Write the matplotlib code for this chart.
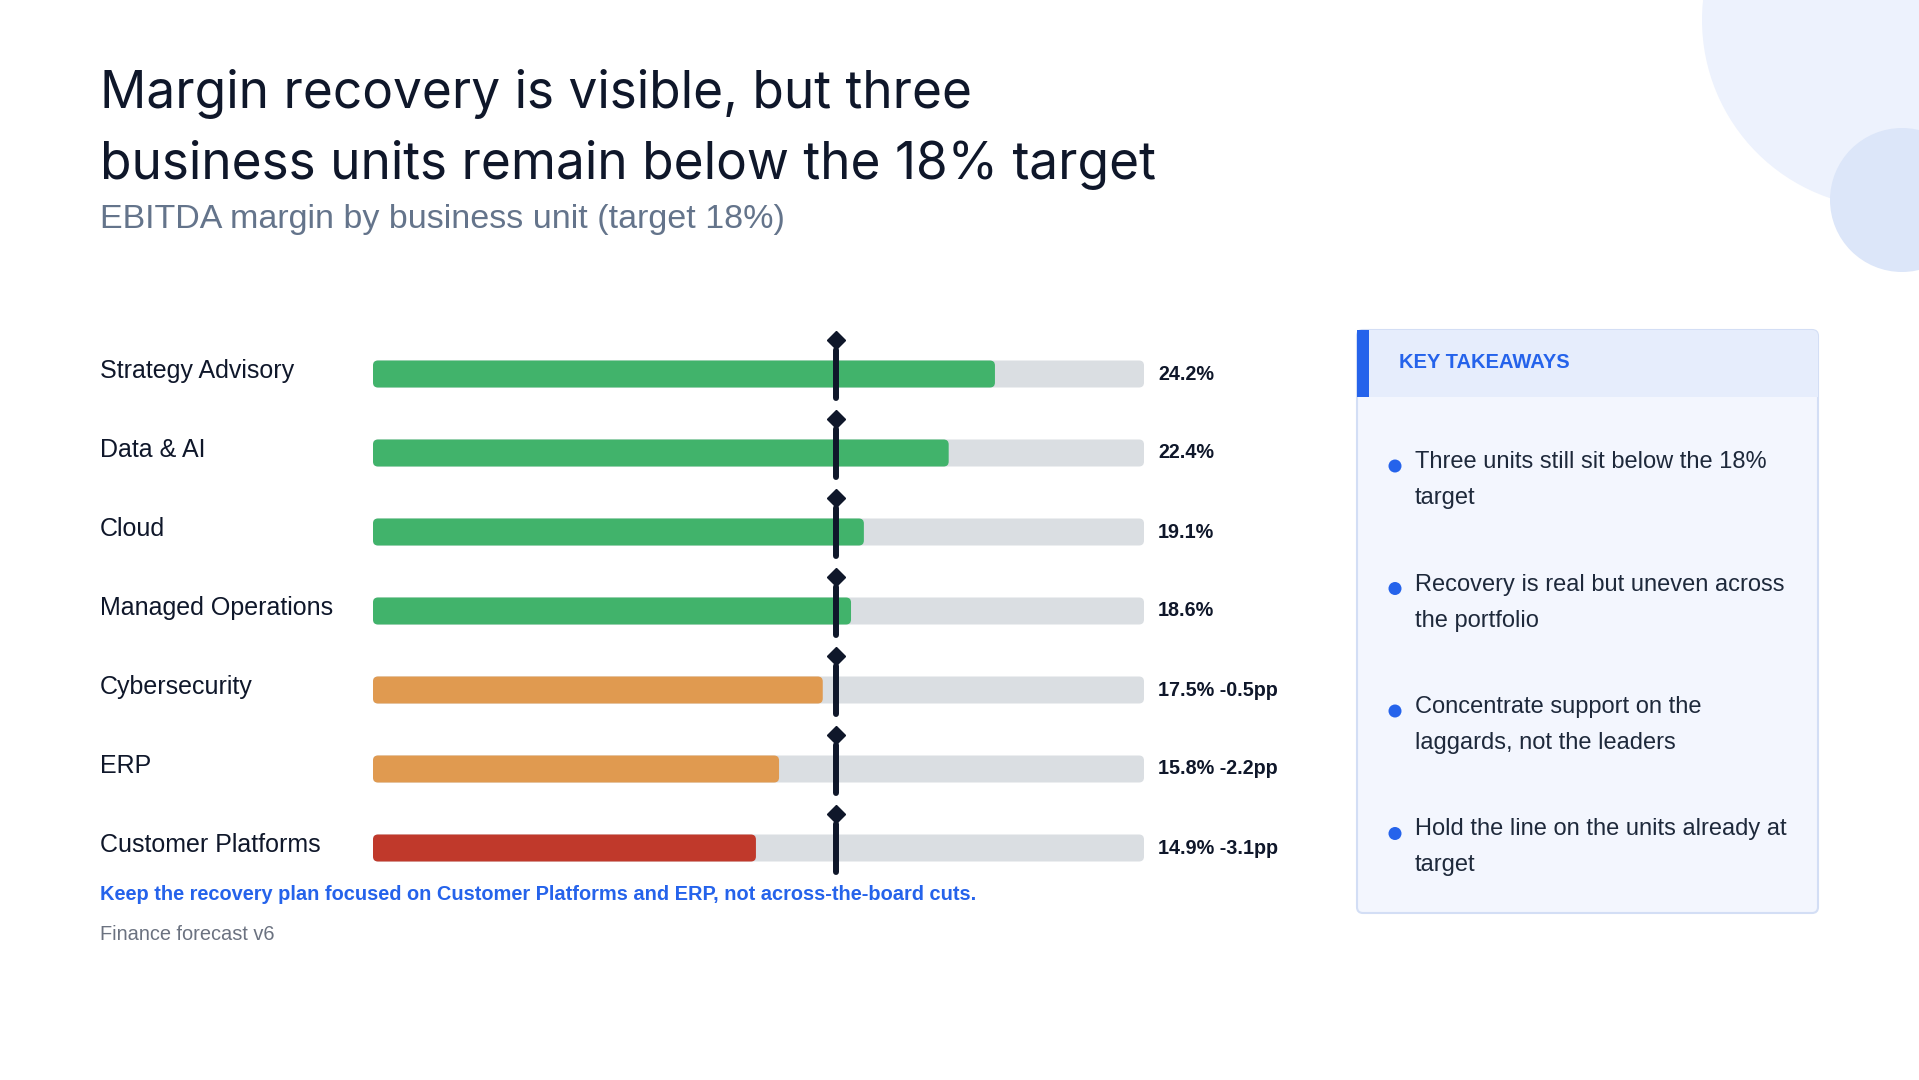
import matplotlib
matplotlib.use("Agg")
import matplotlib.pyplot as plt
from matplotlib.patches import FancyBboxPatch, Circle, Rectangle
from matplotlib import transforms

plt.rcParams["font.family"] = ["Liberation Sans", "DejaVu Sans"]

# --- data -------------------------------------------------------------------
units = ["Strategy Advisory", "Data & AI", "Cloud", "Managed Operations",
         "Cybersecurity", "ERP", "Customer Platforms"]
margins = [24.2, 22.4, 19.1, 18.6, 17.5, 15.8, 14.9]
bar_colors = ["#41b36b", "#41b36b", "#41b36b", "#41b36b",
              "#e09a50", "#e09a50", "#c0392b"]
target = 18.0
x_max = 30.0

takeaways = [
    ["Three units still sit below the 18%", "target"],
    ["Recovery is real but uneven across", "the portfolio"],
    ["Concentrate support on the", "laggards, not the leaders"],
    ["Hold the line on the units already at", "target"],
]

INK = "#0f172a"
TRACK = "#dadee2"
BLUE = "#2563eb"
W, H = 1919, 1080

fig = plt.figure(figsize=(W / 100, H / 100), dpi=100)
fig.patch.set_facecolor("white")

# background layer in pixel coords (origin top-left)
bg = fig.add_axes([0, 0, 1, 1])
bg.set_xlim(0, W)
bg.set_ylim(H, 0)
bg.axis("off")

bg.add_patch(Circle((1890, 20), 188, color="#edf2fd", lw=0))
bg.add_patch(Circle((1902, 200), 72, color="#dce6f9", lw=0))

# titles
bg.text(100, 108, "Margin recovery is visible, but three", fontsize=37,
        family=["Inter", "DejaVu Sans"], color=INK, va="baseline")
bg.text(100, 179, "business units remain below the 18% target", fontsize=37,
        family=["Inter", "DejaVu Sans"], color=INK, va="baseline")
bg.text(100, 228, "EBITDA margin by business unit (target 18%)", fontsize=24.5,
        color="#64748b", va="baseline")

# footer
bg.text(100, 895, "Keep the recovery plan focused on Customer Platforms and ERP, "
        "not across-the-board cuts.", fontsize=14.4, fontweight="bold",
        color=BLUE, va="center")
bg.text(100, 935, "Finance forecast v6", fontsize=14.4, color="#6b7280", va="center")

# takeaways panel
px0, py0, px1, py1 = 1357, 330, 1818, 913
bg.add_patch(FancyBboxPatch((px0, py0), px1 - px0, py1 - py0,
                            boxstyle="round,pad=0,rounding_size=6",
                            fc="#f3f6fe", ec="#d3def5", lw=1.5))
bg.add_patch(FancyBboxPatch((px0, py0), px1 - px0, 67,
                            boxstyle="round,pad=0,rounding_size=6",
                            fc="#e6edfc", ec="none"))
bg.add_patch(Rectangle((px0, py0 + 40), px1 - px0, 27, fc="#e6edfc", ec="none"))
bg.add_patch(Rectangle((px0, py0), 12, 67, fc=BLUE, ec="none"))
bg.text(1399, 363, "KEY TAKEAWAYS", fontsize=14.5, fontweight="bold",
        color=BLUE, va="center")

for i, lines in enumerate(takeaways):
    y0 = 462 + i * 122.5
    bg.add_patch(Circle((1395, y0 + 4), 6.5, color=BLUE, lw=0))
    for j, line in enumerate(lines):
        bg.text(1415, y0 + j * 36, line, fontsize=17, color="#1e293b", va="center")

# --- bullet chart -----------------------------------------------------------
row_px, row0, n = 79.0, 374.0, len(units)
top_px = row0 - 0.6 * row_px
bot_px = row0 + (n - 1 + 0.6) * row_px
x0_px, x1_px = 373, 1144
ax = fig.add_axes([x0_px / W, 1 - bot_px / H, (x1_px - x0_px) / W,
                   (bot_px - top_px) / H])
ax.set_xlim(0, x_max)
ax.set_ylim(n - 1 + 0.6, -0.6)
ax.axis("off")

px_x = x_max / (x1_px - x0_px)      # data units per pixel, x
px_y = 1.0 / row_px                 # data units per pixel, y
aspect = px_y / px_x
bh = 27 * px_y
rad = 5 * px_x

for i, (v, c) in enumerate(zip(margins, bar_colors)):
    ax.add_patch(FancyBboxPatch((0, i - bh / 2), x_max, bh,
                                boxstyle=f"round,pad=0,rounding_size={rad}",
                                mutation_aspect=aspect, fc=TRACK, ec="none"))
    ax.add_patch(FancyBboxPatch((0, i - bh / 2), v, bh,
                                boxstyle=f"round,pad=0,rounding_size={rad}",
                                mutation_aspect=aspect, fc=c, ec="none"))
    ax.plot([target, target], [i - 24 * px_y, i + 24 * px_y], color=INK,
            lw=4.3, solid_capstyle="round", clip_on=False, zorder=5)
    ax.plot(target, i - 34 * px_y, marker="D", ms=9, color=INK,
            clip_on=False, zorder=6)
    label = f"{v:.1f}%"
    if v < target:
        label += f" {v - target:.1f}pp"
    ax.annotate(label, (x_max, i), xytext=(10, 0), textcoords="offset points",
                fontsize=14.2, fontweight="bold", color=INK, va="center",
                annotation_clip=False)

lab_tr = transforms.blended_transform_factory(fig.transFigure, ax.transData)
for i, u in enumerate(units):
    ax.text(100 / W, i - 3 * px_y, u, transform=lab_tr, fontsize=18,
            color=INK, va="center")

fig.savefig("out.png", dpi=100, facecolor="white")
